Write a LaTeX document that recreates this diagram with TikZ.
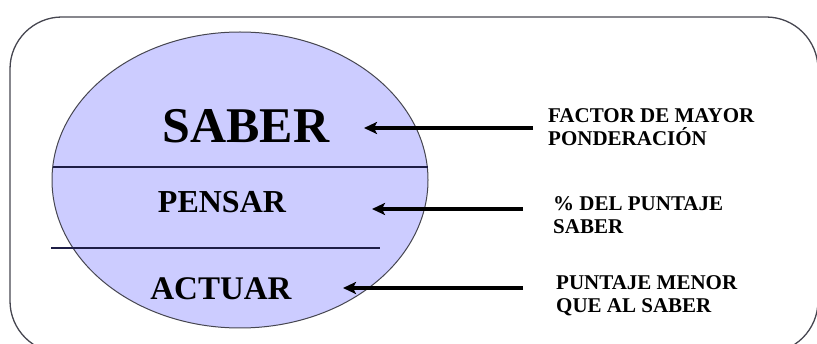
\documentclass[tikz,border=0pt]{standalone}
\usepackage{fontspec}
\setmainfont{Liberation Serif}
\usetikzlibrary{arrows.meta}
\definecolor{lavender}{RGB}{204,204,255}
\definecolor{rimgray}{RGB}{70,70,80}
\definecolor{divider}{RGB}{30,30,70}
\tikzset{
  frame/.style={draw=rimgray, line width=1.3pt, rounded corners=52pt},
  bubble/.style={draw=rimgray, line width=1pt, fill=lavender},
  divline/.style={draw=divider, line width=1.2pt},
  level/.style={inner sep=0pt, anchor=base, font=\bfseries},
  note/.style={inner sep=0pt, anchor=base west, align=left,
    font=\fontsize{21}{23}\selectfont\bfseries},
  pointer/.style={line width=4pt, -{Stealth[length=13pt,width=12pt,inset=3pt]}},
}
\begin{document}
\begin{tikzpicture}[x=1pt,y=-1pt]
\useasboundingbox (0,0) rectangle (817,344);
% outer rounded panel
\draw[frame] (10,17) rectangle (818,353);
% the layered ellipse
\draw[bubble] (240,180) ellipse [x radius=188, y radius=148];
\draw[divline] (52.5,167) -- (427.5,167);
\draw[divline] (51,248) -- (380,248);
% level names
\node[level, font=\fontsize{50}{50}\selectfont\bfseries] (saber) at (246,143) {SABER};
\node[level, font=\fontsize{32}{32}\selectfont\bfseries] (pensar) at (222,213) {PENSAR};
\node[level, font=\fontsize{33}{33}\selectfont\bfseries] (actuar) at (221,300) {ACTUAR};
% explanatory notes (anchored at the baseline of their last line)
\node[note] (n1) at (548,146) {FACTOR DE MAYOR\\PONDERACIÓN};
\node[note] (n2) at (553,234) {\% DEL PUNTAJE\\SABER};
\node[note] (n3) at (556,313) {PUNTAJE MENOR\\QUE AL SABER};
% arrow ends
\coordinate (t1) at (533,128);
\coordinate (h1) at (364,128);
\coordinate (t2) at (523,209);
\coordinate (h2) at (372,209);
\coordinate (t3) at (523,288);
\coordinate (h3) at (343,288);
\draw[pointer] (t1) -- (h1);
\draw[pointer] (t2) -- (h2);
\draw[pointer] (t3) -- (h3);
\end{tikzpicture}
\end{document}
